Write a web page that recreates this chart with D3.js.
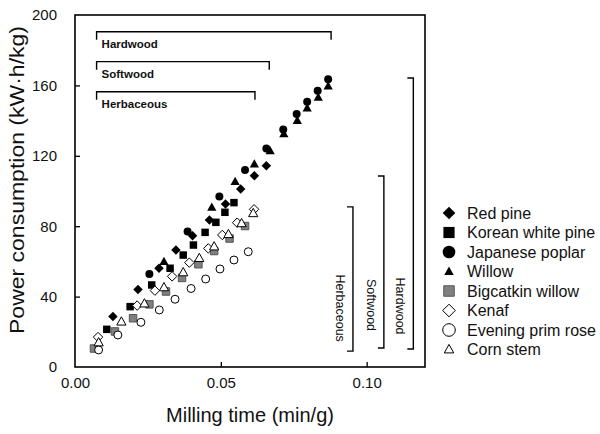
<!DOCTYPE html>
<html>
<head>
<meta charset="utf-8">
<script src="https://cdn.jsdelivr.net/npm/d3@7"></script>
<style>
html,body{margin:0;padding:0;background:#fff;}
svg{display:block;font-family:"Liberation Sans",Arial,sans-serif;}
</style>
</head>
<body>
<svg id="chart" width="600" height="434"></svg>
<script>
// ---- data (milling time min/g, power consumption kW·h/kg) ----
const seriesNames = ["Red pine","Korean white pine","Japanese poplar","Willow","Bigcatkin willow","Kenaf","Evening prim rose","Corn stem"];

const redPineX = [0.0130,0.0216,0.0288,0.0346,0.0403,0.0461,0.0516,0.0568,0.0615,0.0656];
const redPineY = [28.7,44.1,56.1,66.5,74.6,83.5,92.6,101.1,108.7,114.4];

const koreanPineX = [0.0109,0.0189,0.0263,0.0326,0.0371,0.0406,0.0446,0.0483,0.0514,0.0545];
const koreanPineY = [21.4,34.3,46.6,56.1,63.6,69.3,76.5,82.2,87.9,93.4];

const poplarX = [0.0255,0.0386,0.0495,0.0583,0.0656,0.0714,0.0760,0.0796,0.0832,0.0868];
const poplarY = [52.8,77.0,96.9,111.9,124.1,134.9,143.8,150.7,157.0,163.5];

const willowX = [0.0305,0.0469,0.0549,0.0615,0.0669,0.0716,0.0762,0.0796,0.0834,0.0868];
const willowY = [59.8,90.7,105.3,115.2,122.7,132.4,140.0,147.0,153.2,159.5];

const bigcatkinX = [0.0065,0.0137,0.0199,0.0255,0.0312,0.0367,0.0423,0.0477,0.0530,0.0583];
const bigcatkinY = [10.5,20.2,27.7,35.6,42.9,50.6,58.4,65.9,73.0,80.1];

const kenafX = [0.0079,0.0213,0.0274,0.0333,0.0392,0.0457,0.0505,0.0556,0.0614];
const kenafY = [17.0,34.9,43.4,51.5,59.3,67.4,75.0,82.0,89.6];

const primroseX = [0.0081,0.0147,0.0226,0.0289,0.0343,0.0398,0.0448,0.0497,0.0545,0.0594];
const primroseY = [9.7,18.2,25.4,32.4,38.5,44.6,50.0,55.7,60.8,65.5];

const cornX = [0.0081,0.0159,0.0238,0.0305,0.0371,0.0426,0.0477,0.0526,0.0571,0.0611];
const cornY = [13.9,25.7,36.0,45.2,53.7,61.8,68.4,75.4,81.6,87.3];

const xTicks = [0, 0.05, 0.10];
const yTicks = [0, 40, 80, 120, 160, 200];

// group annotation ranges (data units)
const topGroups = ["Hardwood","Softwood","Herbaceous"];
const topGroupX0 = [0.0074,0.0074,0.0074];
const topGroupX1 = [0.0878,0.0666,0.0617];
const topGroupY  = [190.5,173.5,156.4];

const sideGroups = ["Herbaceous","Softwood","Hardwood"];
const sideGroupX  = [0.0953,0.1059,0.1160];
const sideGroupY0 = [9.0,10.8,10.2];
const sideGroupY1 = [91.0,108.5,164.2];

// ---- layout ----
const W = 600, H = 434;
const m = {left:75, right:175, top:15, bottom:67};
const svg = d3.select("#chart");
const x = d3.scaleLinear().domain([0,0.12]).range([m.left, W - m.right]);
const y = d3.scaleLinear().domain([0,200]).range([H - m.bottom, m.top]);

// symbol types
const sqDiamond = {draw(ctx,size){const r=Math.sqrt(size)/2*Math.SQRT2;ctx.moveTo(0,-r);ctx.lineTo(r,0);ctx.lineTo(0,r);ctx.lineTo(-r,0);ctx.closePath();}};
const tri = {draw(ctx,size){const w=Math.sqrt(size);const h=w*0.9;ctx.moveTo(0,-h*0.6);ctx.lineTo(w/2,h*0.4);ctx.lineTo(-w/2,h*0.4);ctx.closePath();}};

const styles = [
  {type:sqDiamond, size:45, fill:"#000", stroke:"none", lsize:80},
  {type:d3.symbolSquare, size:56, fill:"#000", stroke:"none", lsize:125},
  {type:d3.symbolCircle, size:50, fill:"#000", stroke:"none", lsize:125},
  {type:tri, size:85, fill:"#000", stroke:"none", lsize:90},
  {type:d3.symbolSquare, size:56, fill:"#808080", stroke:"#555", lsize:110},
  {type:sqDiamond, size:45, fill:"#fff", stroke:"#000", lsize:80},
  {type:d3.symbolCircle, size:50, fill:"#fff", stroke:"#000", lsize:125},
  {type:tri, size:85, fill:"#fff", stroke:"#000", lsize:90}
];

const seriesX = [redPineX,koreanPineX,poplarX,willowX,bigcatkinX,kenafX,primroseX,cornX];
const seriesY = [redPineY,koreanPineY,poplarY,willowY,bigcatkinY,kenafY,primroseY,cornY];

// ---- axes ----
const xAxis = d3.axisBottom(x).tickValues(xTicks).tickFormat(d3.format(".2f")).tickSizeInner(-5).tickSizeOuter(0).tickPadding(10);
const yAxis = d3.axisLeft(y).tickValues(yTicks).tickFormat(d3.format("d")).tickSizeInner(-5).tickSizeOuter(0).tickPadding(18);

const gx = svg.append("g").attr("transform",`translate(0,${H-m.bottom})`).call(xAxis);
const gy = svg.append("g").attr("transform",`translate(${m.left},0)`).call(yAxis);
[gx,gy].forEach(g=>{
  g.select(".domain").remove();
  g.selectAll(".tick line").attr("stroke","#000").attr("stroke-width",1.3);
  g.selectAll(".tick text").attr("font-size",15).attr("fill","#111").attr("font-family","'Liberation Sans',Arial,sans-serif");
});
gx.selectAll(".tick").filter(d=>d===0).select("line").remove();
gy.selectAll(".tick").filter(d=>d===0||d===200).select("line").remove();

// frame
svg.append("rect").attr("x",m.left).attr("y",m.top).attr("width",W-m.left-m.right).attr("height",H-m.top-m.bottom)
  .attr("fill","none").attr("stroke","#000").attr("stroke-width",1.6);

// axis titles
svg.append("text").attr("x",(m.left+W-m.right)/2).attr("y",422).attr("text-anchor","middle")
  .attr("font-size",20).attr("fill","#111").attr("textLength",168).attr("lengthAdjust","spacingAndGlyphs")
  .text("Milling time (min/g)");
svg.append("text").attr("transform",`translate(24,${(m.top+H-m.bottom)/2 - 11}) rotate(-90)`).attr("text-anchor","middle")
  .attr("font-size",20).attr("fill","#111").attr("textLength",308).attr("lengthAdjust","spacingAndGlyphs")
  .text("Power consumption (kW·h/kg)");

// ---- top group brackets ----
const tg = svg.append("g");
topGroups.forEach((name,i)=>{
  const x0=x(topGroupX0[i]), x1=x(topGroupX1[i]), yy=y(topGroupY[i]);
  tg.append("path").attr("d",`M${x0},${yy+8}V${yy}H${x1}V${yy+8}`).attr("fill","none").attr("stroke","#000").attr("stroke-width",1.4);
  tg.append("text").attr("x",x0+5).attr("y",yy+16).attr("font-size",11.5).attr("font-weight","bold").attr("fill","#111").text(name);
});

// ---- side group brackets ----
const sg = svg.append("g");
sideGroups.forEach((name,i)=>{
  const xx=x(sideGroupX[i]), y0=y(sideGroupY0[i]), y1=y(sideGroupY1[i]);
  sg.append("path").attr("d",`M${xx-6},${y1}H${xx}V${y0}H${xx-6}`).attr("fill","none").attr("stroke","#000").attr("stroke-width",1.4);
  const tx = xx-13, ty = y0 - 43;
  sg.append("text").attr("transform",`translate(${tx},${ty}) rotate(90)`).attr("text-anchor","middle")
    .attr("dy","0.35em").attr("font-size",12.5).attr("fill","#111").text(name);
});

// ---- points ----
const pts = svg.append("g");
seriesNames.forEach((name,i)=>{
  const st = styles[i];
  const sym = d3.symbol().type(st.type).size(st.size);
  const data = d3.zip(seriesX[i], seriesY[i]);
  pts.append("g").selectAll("path").data(data).join("path")
    .attr("transform",d=>`translate(${x(d[0])},${y(d[1])})`)
    .attr("d",sym)
    .attr("fill",st.fill).attr("stroke",st.stroke).attr("stroke-width",1);
});

// ---- legend ----
const leg = svg.append("g").attr("transform","translate(449,213)");
seriesNames.forEach((name,i)=>{
  const st = styles[i];
  const row = leg.append("g").attr("transform",`translate(0,${i*19.5})`);
  row.append("path").attr("d",d3.symbol().type(st.type).size(st.lsize)).attr("fill",st.fill).attr("stroke",st.stroke).attr("stroke-width",1);
  row.append("text").attr("x",18).attr("dy","0.35em").attr("font-size",16).attr("fill","#111").text(name);
});
</script>
</body>
</html>
